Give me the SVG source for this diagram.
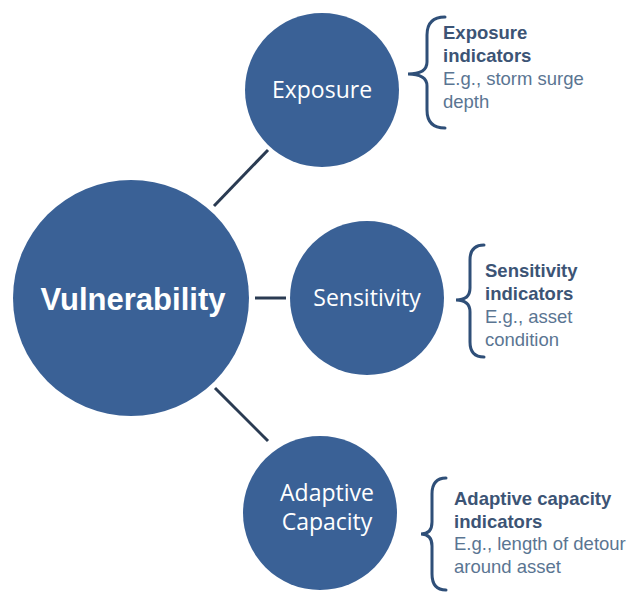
<svg xmlns="http://www.w3.org/2000/svg" width="637" height="592" viewBox="0 0 637 592">
<style>
.node{fill:#3a6196}
.lbl{fill:#ffffff;font-family:"Open Sans","Noto Sans",sans-serif;font-size:23px;text-anchor:middle}
.big{fill:#ffffff;font-family:"Liberation Sans",Arial,sans-serif;font-size:31px;font-weight:bold;text-anchor:middle}
.conn{stroke:#2a3b52;stroke-width:3;fill:none}
.brace{stroke:#2f4f78;stroke-width:3;fill:none;stroke-linecap:round}
.t{font-family:"Liberation Sans",Arial,sans-serif;font-size:18.5px}
.tb{fill:#3c5475;font-weight:bold}
.tn{fill:#5a7592}
</style>
<rect width="637" height="592" fill="#ffffff"/>
<g id="connectors">
<line class="conn" x1="214" y1="206" x2="268" y2="150"/>
<line class="conn" x1="255" y1="298" x2="286" y2="298"/>
<line class="conn" x1="215" y1="388" x2="268" y2="441"/>
</g>
<g id="vulnerability">
<circle class="node" cx="131" cy="298" r="118"/>
<text class="big" x="133" y="310">Vulnerability</text>
</g>
<g id="exposure">
<circle class="node" cx="322" cy="90" r="77"/>
<text class="lbl" x="322" y="98">Exposure</text>
</g>
<g id="sensitivity">
<circle class="node" cx="367" cy="298" r="77"/>
<text class="lbl" x="367" y="306">Sensitivity</text>
</g>
<g id="adaptive">
<circle class="node" cx="320" cy="513" r="77"/>
<text class="lbl" x="327" y="501">Adaptive</text>
<text class="lbl" x="327" y="530">Capacity</text>
</g>
<g id="exposure-ind">
<path class="brace" d="M445,17 Q427,17 427,35 L427,62 Q427,74 408,74 Q427,74 427,86 L427,110 Q427,128 445,128"/>
<text class="t" x="443" y="39"><tspan class="tb">Exposure</tspan><tspan class="tb" x="443" dy="23">indicators</tspan><tspan class="tn" x="443" dy="23">E.g., storm surge</tspan><tspan class="tn" x="443" dy="23">depth</tspan></text>
</g>
<g id="sensitivity-ind">
<path class="brace" d="M484,245 Q470,245 470,260 L470,288 Q470,300 456,300 Q470,300 470,312 L470,342 Q470,357 484,357"/>
<text class="t" x="485" y="277"><tspan class="tb">Sensitivity</tspan><tspan class="tb" x="485" dy="23">indicators</tspan><tspan class="tn" x="485" dy="23">E.g., asset</tspan><tspan class="tn" x="485" dy="23">condition</tspan></text>
</g>
<g id="adaptive-ind">
<path class="brace" d="M446,478 Q432,478 432,494 L432,522 Q432,534 421,534 Q432,534 432,546 L432,574 Q432,590 446,590"/>
<text class="t" x="454" y="505"><tspan class="tb">Adaptive capacity</tspan><tspan class="tb" x="454" dy="23">indicators</tspan><tspan class="tn" x="454" dy="22">E.g., length of detour</tspan><tspan class="tn" x="454" dy="23">around asset</tspan></text>
</g>
</svg>
